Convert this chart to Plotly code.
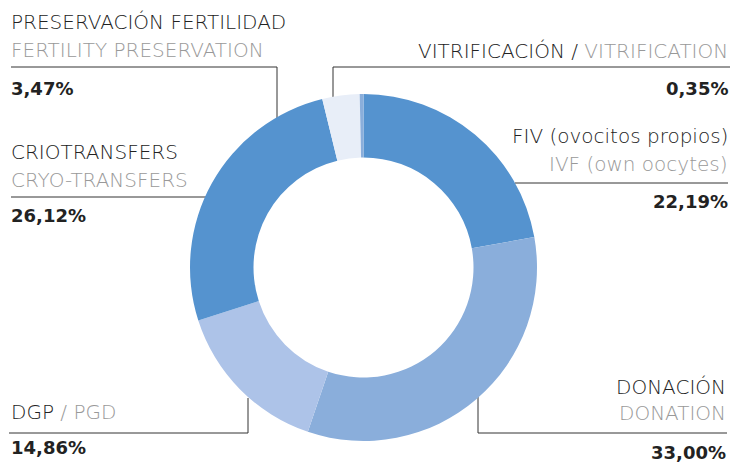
import plotly.graph_objects as go

# ---- data ----
labels_es = ["FIV (ovocitos propios)", "DONACIÓN", "DGP", "CRIOTRANSFERS", "PRESERVACIÓN FERTILIDAD", "VITRIFICACIÓN"]
labels_en = ["IVF (own oocytes)", "DONATION", "PGD", "CRYO-TRANSFERS", "FERTILITY PRESERVATION", "VITRIFICATION"]
values = [22.19, 33.00, 14.86, 26.12, 3.47, 0.35]
colors = ["#5593cf", "#8aaedb", "#adc3e8", "#5593cf", "#e8eef8", "#8aaedb"]

W, H = 733, 462
DARK = "#222222"
GREY = "#999999"
FONT = "DejaVu Sans"

def pct(v):
    return f"{v:.2f}".replace(".", ",") + "%"

def px(x):
    return x / W

def py(y):
    return 1 - y / H

cx, cy, R = 363.5, 267.5, 173.5

fig = go.Figure(go.Pie(
    labels=labels_es,
    values=values,
    sort=False,
    direction="clockwise",
    rotation=0,
    hole=0.634,
    marker=dict(colors=colors, line=dict(width=0)),
    textinfo="none",
    hoverinfo="label+percent",
    domain=dict(x=[px(cx - R), px(cx + R)], y=[py(cy + R), py(cy - R)]),
    showlegend=False,
))

ann = []
def text(x, y, s, anchor, color=DARK, size=20, weight=300):
    ann.append(dict(x=px(x), y=py(y), xref="paper", yref="paper", text=s,
                    showarrow=False, xanchor=anchor, yanchor="middle",
                    font=dict(family=FONT, size=size, color=color, weight=weight)))

def g(s):
    return f"<span style='color:{GREY}'>{s}</span>"

PS = 18
# Fertility preservation (index 4)
text(9, 22, labels_es[4], "left")
text(9, 50, labels_en[4], "left", GREY)
text(9, 88, pct(values[4]), "left", size=PS, weight=700)
# Vitrification (index 5)
text(730, 51, labels_es[5] + " / " + g(labels_en[5]), "right")
text(730, 88, pct(values[5]), "right", size=PS, weight=700)
# FIV (index 0)
text(730, 136, labels_es[0], "right")
text(730, 164, labels_en[0], "right", GREY)
text(730, 202, pct(values[0]), "right", size=PS, weight=700)
# Crio (index 3)
text(9, 152, labels_es[3], "left")
text(9, 180, labels_en[3], "left", GREY)
text(9, 215, pct(values[3]), "left", size=PS, weight=700)
# DGP (index 2)
text(9, 412, labels_es[2] + " " + g("/ " + labels_en[2]), "left")
text(9, 447, pct(values[2]), "left", size=PS, weight=700)
# Donation (index 1)
text(728, 387, labels_es[1], "right")
text(728, 413, labels_en[1], "right", GREY)
text(728, 452, pct(values[1]), "right", size=PS, weight=700)

shapes = []
def line(x0, y0, x1, y1):
    shapes.append(dict(type="line", xref="paper", yref="paper",
                       x0=px(x0), y0=py(y0), x1=px(x1), y1=py(y1),
                       line=dict(color="#333333", width=1), layer="below"))

line(11, 67, 277, 67); line(277, 67, 277, 118)
line(333, 67, 730, 67); line(333, 67, 333, 97)
line(515, 183, 728, 183)
line(11, 197, 206, 197)
line(9, 433, 248, 433); line(248, 433, 248, 398)
line(478, 433, 727, 433); line(478, 433, 478, 397)

fig.update_layout(
    width=W, height=H,
    margin=dict(l=0, r=0, t=0, b=0),
    paper_bgcolor="white", plot_bgcolor="white",
    annotations=ann, shapes=shapes,
)

fig.write_html("out.html", config={"displayModeBar": False},
               post_script="document.body.style.margin='0';document.body.style.overflow='hidden';")
